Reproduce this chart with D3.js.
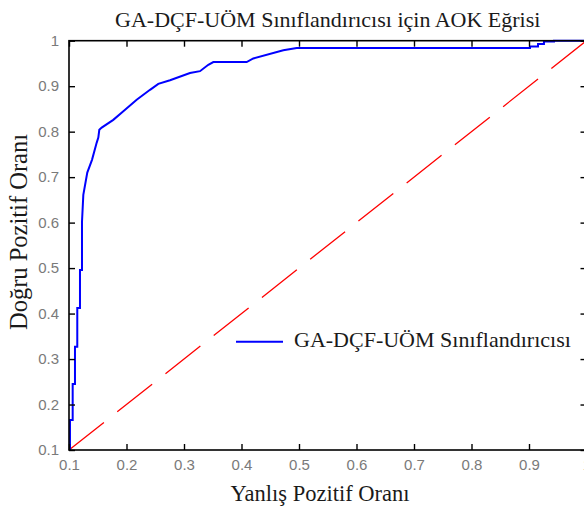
<!DOCTYPE html>
<meta charset="utf-8">
<script src="https://d3js.org/d3.v7.min.js"></script>
<style>
  body { margin: 0; background: #fff; }
</style>
<svg id="my_dataviz" width="584" height="508"></svg>
<script>

// ROC curve (false positive rate / true positive rate)
var fpr = [0.1, 0.1017, 0.1017, 0.1064, 0.1064, 0.1104, 0.1104, 0.1144, 0.1144, 0.1191, 0.1191, 0.1226,
           0.1226, 0.1249, 0.1318, 0.14, 0.1482, 0.151, 0.1527, 0.1569, 0.177, 0.1945, 0.2177, 0.2409,
           0.2553, 0.2757, 0.3104, 0.3278, 0.3423, 0.351, 0.409, 0.4205, 0.4727, 0.496, 0.9017, 0.9017,
           0.9157, 0.9157, 0.926, 0.926, 0.9435, 0.9435, 1.0];
var tpr = [0.1, 0.1, 0.166, 0.166, 0.245, 0.245, 0.327, 0.327, 0.4125, 0.4125, 0.496, 0.496,
           0.602, 0.661, 0.71, 0.738, 0.776, 0.787, 0.804, 0.809, 0.826, 0.845, 0.87, 0.892,
           0.905, 0.913, 0.929, 0.933, 0.947, 0.953, 0.953, 0.961, 0.979, 0.984, 0.984, 0.9875,
           0.9875, 0.993, 0.993, 0.9985, 0.9985, 1.0, 1.0];
var chance = [0.1, 1.0];
var ticks = [0.1, 0.2, 0.3, 0.4, 0.5, 0.6, 0.7, 0.8, 0.9, 1];
var tickLabels = ["0.1", "0.2", "0.3", "0.4", "0.5", "0.6", "0.7", "0.8", "0.9", "1"];

var titleText = "GA-DÇF-UÖM Sınıflandırıcısı için AOK Eğrisi";
var xLabelText = "Yanlış Pozitif Oranı";
var yLabelText = "Doğru Pozitif Oranı";
var legendText = "GA-DÇF-UÖM Sınıflandırıcısı";

var svg = d3.select("svg");
var serif = "'Liberation Serif', 'DejaVu Serif', serif";
var sans = "'Liberation Sans', Arial, sans-serif";

// plot box (right edge falls just outside the picture, as in the original)
var pLeft = 69, pRight = 586.5, pTop = 40.7, pBottom = 450;

var x = d3.scaleLinear().domain([0.1, 1]).range([pLeft, pRight]);
var y = d3.scaleLinear().domain([0.1, 1]).range([pBottom, pTop]);

svg.append("rect").attr("width", 584).attr("height", 508).attr("fill", "#fff");

// chance diagonal
svg.append("line")
  .attr("x1", x(chance[0])).attr("y1", y(chance[0]))
  .attr("x2", x(chance[1])).attr("y2", y(chance[1]))
  .attr("stroke", "#ff0000")
  .attr("stroke-width", 1.3)
  .style("stroke-dasharray", "44.5,17");

// ROC curve
var pts = fpr.map(function(d, i) { return [d, tpr[i]]; });
svg.append("path")
  .datum(pts)
  .attr("fill", "none")
  .attr("stroke", "#0000ff")
  .attr("stroke-width", 2)
  .attr("d", d3.line().x(function(d) { return x(d[0]); }).y(function(d) { return y(d[1]); }));

// axes (matlab box with inward ticks)
var bx = d3.axisBottom(x).tickValues(ticks).tickSize(-6).tickPadding(9)
  .tickFormat(function(d, i) { return tickLabels[i]; });
var tx = d3.axisTop(x).tickValues(ticks).tickSize(-6).tickFormat("");
var ly = d3.axisLeft(y).tickValues(ticks).tickSize(-6).tickPadding(10)
  .tickFormat(function(d, i) { return tickLabels[i]; });
var ry = d3.axisRight(y).tickValues(ticks).tickSize(-6).tickFormat("");

function styleAxis(g) {
  g.select(".domain").remove();
  g.selectAll("line").attr("stroke", "#000").attr("stroke-width", 1.4);
  g.selectAll("text").attr("fill", "#7a7a7a").style("font-family", sans).style("font-size", "15px");
}

svg.append("g").attr("transform", "translate(0," + pBottom + ")").call(bx).call(styleAxis);
svg.append("g").attr("transform", "translate(0," + pTop + ")").call(tx).call(styleAxis);
svg.append("g").attr("transform", "translate(" + pLeft + ",0)").call(ly).call(styleAxis);
svg.append("g").attr("transform", "translate(" + pRight + ",0)").call(ry).call(styleAxis);

svg.append("rect")
  .attr("x", pLeft).attr("y", pTop)
  .attr("width", pRight - pLeft).attr("height", pBottom - pTop)
  .attr("fill", "none").attr("stroke", "#000").attr("stroke-width", 1.6);

// title and labels
svg.append("text")
  .attr("x", (pLeft + pRight) / 2).attr("y", 27)
  .attr("text-anchor", "middle")
  .style("font-family", serif).style("font-size", "22px")
  .attr("fill", "#1a1a1a")
  .text(titleText);

svg.append("text")
  .attr("x", 320).attr("y", 501)
  .attr("text-anchor", "middle")
  .style("font-family", serif).style("font-size", "22.5px")
  .attr("fill", "#1a1a1a")
  .text(xLabelText);

svg.append("text")
  .attr("transform", "translate(27,232) rotate(-90)")
  .attr("text-anchor", "middle")
  .style("font-family", serif).style("font-size", "24.5px")
  .attr("fill", "#1a1a1a")
  .text(yLabelText);

// legend
svg.append("line")
  .attr("x1", 236).attr("x2", 283).attr("y1", 341.7).attr("y2", 341.7)
  .attr("stroke", "#0000ff").attr("stroke-width", 2);
svg.append("text")
  .attr("x", 294).attr("y", 347)
  .style("font-family", serif).style("font-size", "22px")
  .attr("fill", "#1a1a1a")
  .text(legendText);

</script>
